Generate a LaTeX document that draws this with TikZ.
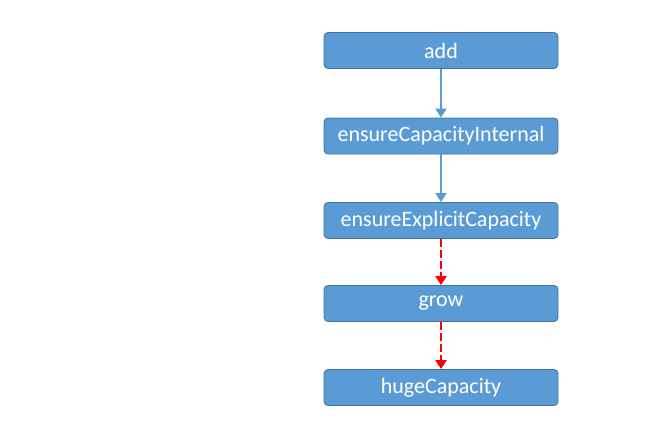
\documentclass[tikz,border=0pt]{standalone}
\usepackage{fontspec}
\setmainfont{Carlito}
\usetikzlibrary{arrows.meta}
\definecolor{boxfill}{HTML}{5B9BD5}
\definecolor{boxline}{HTML}{41719C}
\definecolor{arrred}{HTML}{FF0000}
\begin{document}
\begin{tikzpicture}[x=1pt,y=-1pt,
  fbox/.style={draw=boxline, line width=0.8pt, fill=boxfill, rounded corners=4pt,
    minimum width=234pt, minimum height=36pt, inner sep=0pt,
    text=white, font=\fontsize{22}{26}\selectfont},
  bluearr/.style={draw=boxfill, line width=2.2pt, -{Triangle[length=9pt,width=11pt]}},
  redarr/.style={draw=arrred, line width=2.4pt, dash pattern=on 8pt off 3pt, -{Triangle[length=9pt,width=11pt]}}
]
\useasboundingbox (0,0) rectangle (671,420);
\node[fbox] (add) at (441,50.5) {add};
\node[fbox] (eci) at (441,136) {ensureCapacityInternal};
\node[fbox] (eec) at (441,220.5) {ensureExplicitCapacity};
\node[fbox] (grow) at (441,303.5) {grow};
\node[fbox] (huge) at (441,387.5) {hugeCapacity};
\draw[bluearr] (add) -- (eci);
\draw[bluearr] (eci) -- (eec);
\draw[redarr] (eec) -- (grow);
\draw[redarr] (grow) -- (huge);
\end{tikzpicture}
\end{document}
